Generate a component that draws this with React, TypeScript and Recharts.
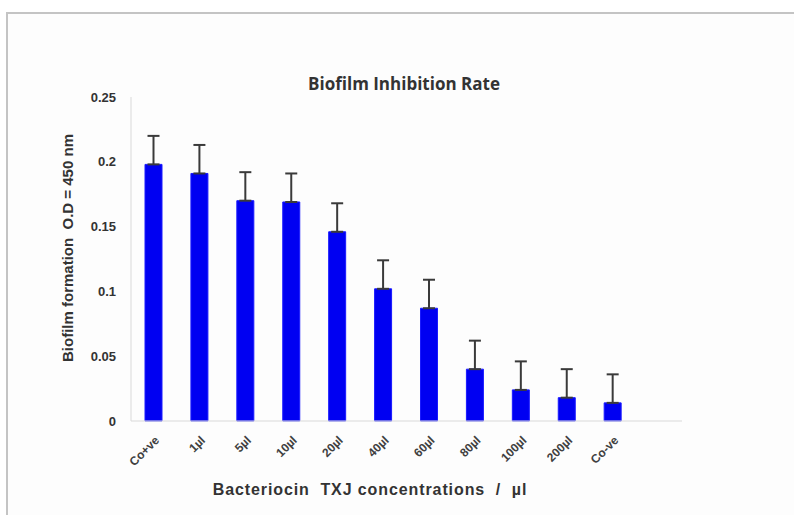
import { BarChart, Bar, XAxis, YAxis, ErrorBar } from "recharts";

const categories = ["Co+ve", "1µl", "5µl", "10µl", "20µl", "40µl", "60µl", "80µl", "100µl", "200µl", "Co-ve", ""];
const odValues = [0.198, 0.191, 0.17, 0.169, 0.146, 0.102, 0.087, 0.04, 0.024, 0.018, 0.014, null];
const sdValues = [0.022, 0.022, 0.022, 0.022, 0.022, 0.022, 0.022, 0.022, 0.022, 0.022, 0.022, null];
const yTicks = [0, 0.05, 0.1, 0.15, 0.2, 0.25];

const data = categories.map((name, i) => ({
    name,
    od: odValues[i],
    // upper-only error bars
    err: sdValues[i] == null ? null : [0, sdValues[i]],
}));

export default function App() {
    return (
        <div style={{ position: "absolute", left: 0, top: 0, width: 794, height: 515, background: "#fff", overflow: "hidden", fontFamily: "Arial, 'Liberation Sans', sans-serif" }}>
            {/* frame of the pasted chart */}
            <div style={{ position: "absolute", left: 6, top: 12, width: 800, height: 510, borderTop: "2px solid #c4c4c4", borderLeft: "2px solid #c4c4c4", background: "#fdfdfd" }} />

            <div style={{ position: "absolute", left: 0, top: 0 }}>
                <BarChart width={794} height={515} data={data} margin={{ top: 97, right: 112, bottom: 34, left: 71 }} barCategoryGap={0}>
                    <XAxis
                        dataKey="name"
                        interval={0}
                        tickLine={false}
                        axisLine={{ stroke: "#d9d9d9" }}
                        height={60}
                        angle={-45}
                        textAnchor="end"
                        tickMargin={8}
                        tick={{ fontSize: 12, fill: "#404040", fontWeight: 600 }}
                    />
                    <YAxis
                        domain={[0, 0.25]}
                        ticks={yTicks}
                        width={60}
                        tickLine={false}
                        axisLine={{ stroke: "#d9d9d9" }}
                        tickMargin={9}
                        tick={{ fontSize: 13, fill: "#333", fontWeight: 700 }}
                    />
                    <Bar dataKey="od" fill="#0000f2" stroke="#1a1aff" barSize={17} isAnimationActive={false}>
                        <ErrorBar dataKey="err" direction="y" width={6} stroke="#3a3a3a" strokeWidth={2} />
                    </Bar>
                </BarChart>
            </div>

            <div style={{ position: "absolute", left: 404, top: 72, transform: "translateX(-50%)", whiteSpace: "nowrap", fontFamily: "'Open Sans', sans-serif", fontWeight: 700, fontSize: 17, color: "#333" }}>
                Biofilm Inhibition Rate
            </div>
            <div style={{ position: "absolute", left: 67, top: 248, transform: "translate(-50%, -50%) rotate(-90deg)", whiteSpace: "nowrap", fontWeight: 700, fontSize: 15, color: "#333" }}>
                Biofilm formation&nbsp; O.D = 450 nm
            </div>
            <div style={{ position: "absolute", left: 370, top: 490, transform: "translate(-50%, -50%)", whiteSpace: "nowrap", fontWeight: 700, fontSize: 16, letterSpacing: 0.9, color: "#333" }}>
                Bacteriocin&nbsp; TXJ concentrations&nbsp; /&nbsp; µl
            </div>
        </div>
    );
}
